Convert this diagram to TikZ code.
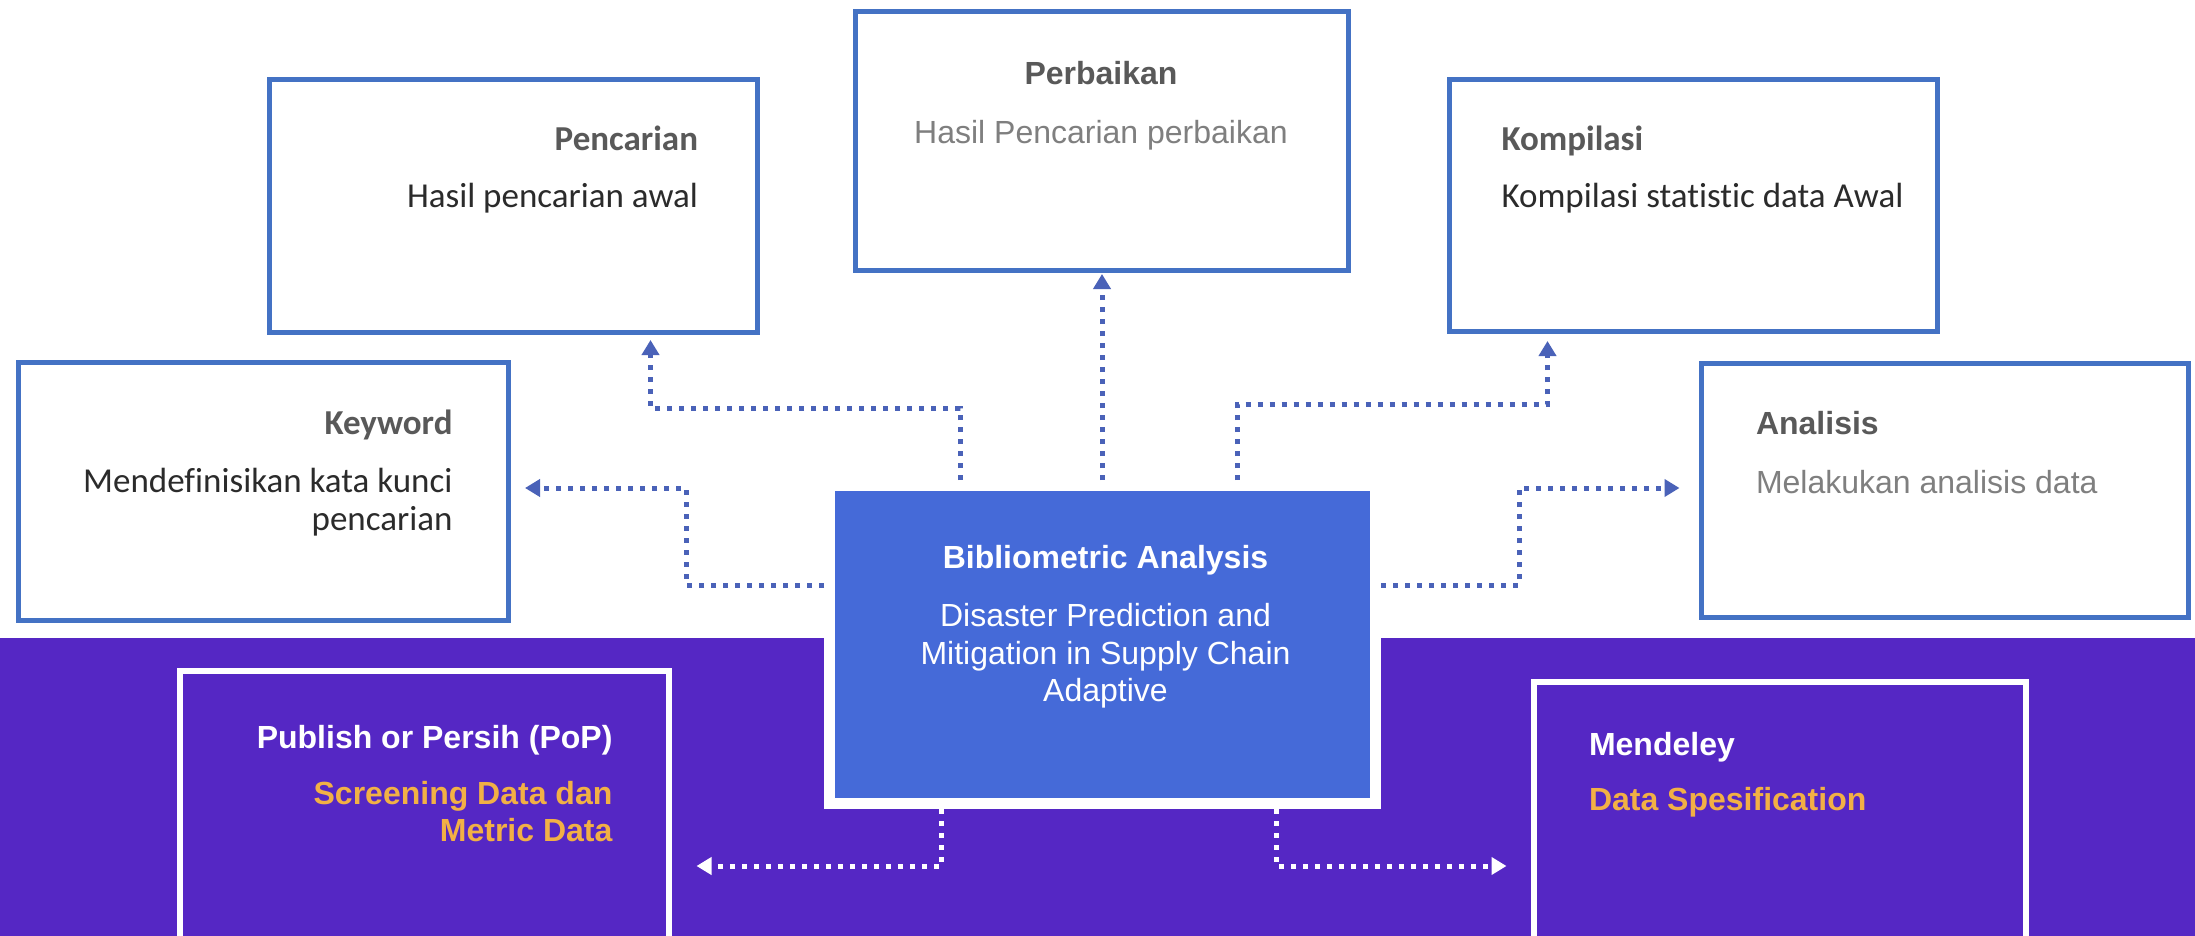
\documentclass[tikz,border=0pt]{standalone}
\usepackage{fontspec}
\setmainfont{Liberation Sans}
\newfontfamily\carl[Ligatures=NoCommon]{Carlito}
\usetikzlibrary{arrows.meta}
\definecolor{bordblue}{HTML}{4472C4}
\definecolor{fillblue}{HTML}{456AD8}
\definecolor{purp}{HTML}{5527C4}
\definecolor{orng}{HTML}{F2B045}
\definecolor{conblue}{HTML}{4A62B8}
\definecolor{ttlgray}{HTML}{595959}
\definecolor{txtgray}{HTML}{7F7F7F}
\definecolor{txtdark}{HTML}{2B2B2B}
\tikzset{
 topbox/.style={draw=bordblue, line width=5pt, fill=white, rectangle, inner sep=0pt},
 botbox/.style={draw=white, line width=6pt, rectangle, inner sep=0pt},
 lbl/.style={inner sep=0pt, outer sep=0pt},
 arialT/.style={lbl, font=\fontsize{32}{37.5}\selectfont\bfseries},
 arialB/.style={lbl, font=\fontsize{32}{37.5}\selectfont},
 carlT/.style={lbl, font=\carl\fontsize{35}{38}\selectfont\bfseries},
 carlB/.style={lbl, font=\carl\fontsize{35}{38}\selectfont},
 conn/.style={draw=conblue, line width=5pt, dash pattern=on 5pt off 7pt, -{Triangle[width=17pt,length=15pt]}},
 connw/.style={conn, draw=white},
}
\begin{document}
\begin{tikzpicture}[x=1pt,y=-1pt]
\useasboundingbox (0,0) rectangle (2195,936);
\fill[white] (0,0) rectangle (2195,936);
\fill[purp] (0,638) rectangle (2195,936);

% boxes
\node[topbox, minimum width=488.5pt, minimum height=252.5pt] (pen) at (513.25,206.25) {};
\node[topbox, minimum width=493pt, minimum height=259pt] (per) at (1102,141) {};
\node[topbox, minimum width=488pt, minimum height=251.5pt] (kom) at (1693.5,205.75) {};
\node[topbox, minimum width=490pt, minimum height=257.5pt] (key) at (263,491.25) {};
\node[topbox, minimum width=487pt, minimum height=254pt] (ana) at (1945,490.5) {};
\node[botbox, minimum width=489pt, minimum height=269.5pt] (pop) at (424.5,805.25) {};
\node[botbox, minimum width=492pt, minimum height=258pt] (men) at (1780,811) {};
\node[draw=white, line width=11pt, fill=fillblue, minimum width=546pt, minimum height=318pt, inner sep=0pt] (bib) at (1102.5,644.5) {};

% connectors
\coordinate (a1) at (960,408);
\coordinate (a2) at (650.5,408);
\draw[conn, shorten >=5pt] (bib.north -| a1) -- (a1) -- (a2) -- (a2 |- pen.south);
\draw[conn, shorten >=1pt] (bib.north -| per.south) -- (per.south);
\coordinate (b1) at (1237.5,404);
\coordinate (b2) at (1547.5,404);
\draw[conn, shorten >=7pt] (bib.north -| b1) -- (b1) -- (b2) -- (b2 |- kom.south);
\coordinate (c1) at (686.5,585);
\coordinate (c2) at (686.5,488);
\draw[conn, shorten >=14.5pt] (bib.west |- c1) -- (c1) -- (c2) -- (c2 -| key.east);
\coordinate (d1) at (1519,585);
\coordinate (d2) at (1519,488);
\draw[conn, shorten >=19.5pt] (bib.east |- d1) -- (d1) -- (d2) -- (d2 -| ana.west);
\coordinate (e1) at (941.5,866);
\draw[connw, shorten >=24.5pt] (bib.south -| e1) -- (e1) -- (e1 -| pop.east);
\coordinate (f1) at (1276,866);
\draw[connw, shorten >=24.5pt] (bib.south -| f1) -- (f1) -- (f1 -| men.west);

% texts
\node[carlT, text=ttlgray, anchor=base east] (penT) at (698,151) {Pencarian};
\node[carlB, text=txtdark, anchor=base east] (penB) at (698,207.3) {Hasil pencarian awal};
\node[arialT, text=ttlgray, anchor=base] (perT) at (1101,85) {Perbaikan};
\node[arialB, text=txtgray, anchor=base] (perB) at (1101,143.3) {Hasil Pencarian perbaikan};
\node[carlT, text=ttlgray, anchor=base west] (komT) at (1501.5,150.2) {Kompilasi};
\node[carlB, text=txtdark, anchor=base west] (komB) at (1501.5,207.3) {Kompilasi statistic data Awal};
\node[carlT, text=ttlgray, anchor=base east] (keyT) at (452.5,434.5) {Keyword};
\node[carlB, text=txtdark, anchor=base east] (keyB1) at (452.5,492.6) {Mendefinisikan kata kunci};
\node[carlB, text=txtdark, anchor=base east] (keyB2) at (452.5,530.6) {pencarian};
\node[arialT, text=ttlgray, anchor=base west] (anaT) at (1756,434) {Analisis};
\node[arialB, text=txtgray, anchor=base west] (anaB) at (1756,493) {Melakukan analisis data};
\node[arialT, text=white, anchor=base] (bibT) at (1105.5,568.3) {Bibliometric Analysis};
\node[arialB, text=white, anchor=base] (bib1) at (1105.5,626.7) {Disaster Prediction and};
\node[arialB, text=white, anchor=base] (bib2) at (1105.5,664) {Mitigation in Supply Chain};
\node[arialB, text=white, anchor=base] (bib3) at (1105.5,701.7) {Adaptive};
\node[arialT, text=white, anchor=base east] (popT) at (612.4,748.3) {Publish or Persih (PoP)};
\node[arialT, text=orng, anchor=base east] (popB1) at (612.4,804) {Screening Data dan};
\node[arialT, text=orng, anchor=base east] (popB2) at (612.4,841.7) {Metric Data};
\node[arialT, text=white, anchor=base west] (menT) at (1589,755) {Mendeley};
\node[arialT, text=orng, anchor=base west] (menB) at (1589,810.7) {Data Spesification};
\end{tikzpicture}
\end{document}
